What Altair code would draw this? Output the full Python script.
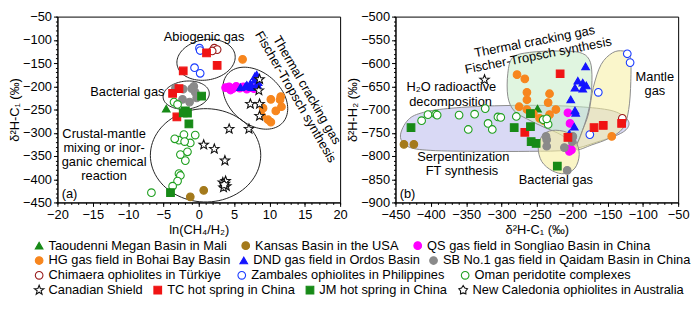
import altair as alt
import numpy as np
import pandas as pd

FONT = "Liberation Sans"

# ---------------- categories ----------------
GROUPS = [
    "Taoudenni Megan Basin in Mali", "Kansas Basin in the USA", "QS gas field in Songliao Basin in China",
    "HG gas field in Bohai Bay Basin", "DND gas field in Ordos Basin", "SB No.1 gas field in Qaidam Basin in China",
    "Chimaera ophiolites in Türkiye", "Zambales ophiolites in Philippines", "Oman peridotite complexes",
    "Canadian Shield", "TC hot spring in China", "JM hot spring in China", "New Caledonia ophiolites in  Australia",
]
LEGEND_ROWS = [GROUPS[0:3], GROUPS[3:6], GROUPS[6:9], GROUPS[9:13]]

# ---------------- panel (a): ln(CH4/H2) vs d2H-C1 ----------------
taoudenni_a = [(-4.6, -248), (-1.8, -253)]
kansas_a = [(0.7, -424), (-1.2, -438)]
qs_a = [(3.8, -203), (4.3, -201), (4.8, -205), (5.3, -200), (5.8, -204), (6.3, -201), (6.8, -206),
        (7.3, -203), (7.8, -205), (4.5, -208)]
hg_a = [(6.2, -142), (10.2, -228), (11.6, -222), (11.5, -229), (11.7, -244), (10.9, -253), (8.9, -263),
        (9.8, -272), (10.2, -277), (9.1, -247)]
dnd_a = [(6.8, -197), (7.3, -194), (7.95, -178), (8.2, -175), (8.4, -191), (8.3, -197), (7.5, -202),
         (5.9, -202), (6.6, -200), (7.95, -186)]
sb_a = [(-3.3, -204), (-2.2, -206), (-0.7, -200), (-0.5, -213), (-0.3, -225), (-1.3, -234), (-2.3, -228),
        (-1.0, -205)]
chimaera_a = [(2.2, -118), (2.6, -121), (1.9, -124)]
zambales_a = [(0.1, -118), (0.2, -123), (-0.6, -160), (0.2, -172)]
oman_a = [(-3.5, -234), (-3.0, -239), (-2.8, -316), (-2.1, -304), (-1.2, -322), (-0.5, -305), (-2.6, -347),
          (-1.6, -341), (-1.9, -360), (-2.8, -388), (-2.6, -392), (-3.0, -404), (-3.7, -415), (-6.7, -429),
          (-3.4, -313), (-2.0, -319)]
canadian_a = [(8.6, -185), (8.5, -209), (7.3, -238), (8.6, -238), (8.6, -264), (4.3, -292), (7.1, -292),
              (0.7, -326), (2.2, -335), (3.7, -360), (3.4, -407), (3.7, -410), (3.9, -415), (3.5, -418),
              (3.8, -404)]
tc_a = [(1.1, -128), (-2.2, -167), (2.6, -155), (-3.7, -215), (-2.8, -205), (-3.1, -266)]
jm_a = [(0.4, -221), (-1.9, -253), (-1.6, -258), (-2.2, -257), (-1.4, -281), (-4.0, -429)]
newcal_a = [(3.6, -412)]

# ---------------- panel (b): d2H-C1 vs d2H-H2 ----------------
taoudenni_b = [(-249, -698)]
kansas_b = [(-438, -775), (-424, -775)]
qs_b = [(-206, -707), (-203, -730), (-200, -762), (-203, -784), (-204, -790), (-201, -787)]
hg_b = [(-278, -625), (-267, -634), (-264, -663), (-264, -679), (-275, -694), (-264, -700), (-255, -709),
        (-246, -719), (-232, -666), (-234, -685), (-223, -700), (-232, -711), (-240, -724), (-144, -758)]
dnd_b = [(-181, -607), (-192, -638), (-185, -642), (-180, -648), (-196, -653), (-185, -655), (-202, -678),
         (-196, -702), (-195, -707), (-197, -737), (-204, -752)]
sb_b = [(-237, -758), (-236, -765), (-236, -779), (-211, -782), (-200, -769), (-199, -758), (-207, -831)]
chimaera_b = [(-129, -719)]
zambales_b = [(-122, -580), (-118, -599), (-163, -663), (-175, -754)]
oman_b = [(-413, -724), (-404, -711), (-393, -710), (-391, -712), (-360, -712), (-338, -710), (-323, -698),
          (-319, -730), (-313, -743), (-347, -743), (-305, -716), (-301, -717), (-279, -715), (-241, -722),
          (-234, -732), (-236, -720)]
canadian_b = [(-324, -636)]
tc_b = [(-217, -623), (-267, -749), (-206, -760), (-169, -739), (-156, -734), (-130, -730)]
jm_b = [(-428, -739), (-282, -739), (-259, -709), (-259, -737), (-258, -769), (-251, -773), (-221, -822)]
newcal_b = []

SERIES_A = [taoudenni_a, kansas_a, qs_a, hg_a, dnd_a, sb_a, chimaera_a, zambales_a, oman_a,
            canadian_a, tc_a, jm_a, newcal_a]
SERIES_B = [taoudenni_b, kansas_b, qs_b, hg_b, dnd_b, sb_b, chimaera_b, zambales_b, oman_b,
            canadian_b, tc_b, jm_b, newcal_b]

# axis ticks
XA_TICKS = [-20, -15, -10, -5, 0, 5, 10, 15, 20]
YA_TICKS = [-450, -400, -350, -300, -250, -200, -150, -100, -50]
XB_TICKS = [-450, -400, -350, -300, -250, -200, -150, -100, -50]
YB_TICKS = [-900, -850, -800, -750, -700, -650, -600, -550, -500]
XA_MINOR, YA_MINOR, XB_MINOR, YB_MINOR = 1, 10, 10, 10

# outlines of the genetic fields
# panel (a) ellipses: centre (data), semi-axes (px in the original figure), tilt (deg)
ELLIPSES_A = [(1.03, -143, 30.5, 23, -14), (-1.78, -219, 24, 16, -8),
              (0.96, -348.6, 57, 53.5, 0), (8.0, -225.6, 40, 28, 50)]
REF_PX_X, REF_PX_Y = 7.3, 0.5325

serp_b = [(-443, -757), (-432, -722), (-410, -706), (-370, -697), (-310, -692), (-250, -691), (-190, -694),
          (-145, -702), (-124, -718), (-120, -735), (-132, -752), (-165, -770), (-205, -787), (-260, -790),
          (-330, -790), (-400, -788), (-432, -780)]
thermal_b = [(-284, -588), (-260, -577), (-220, -574), (-190, -577), (-176, -592), (-172, -625), (-174, -680),
             (-182, -730), (-196, -778), (-215, -755), (-240, -738), (-263, -721), (-282, -703), (-291, -672),
             (-291, -622)]
mantle_b = [(-128, -574), (-118, -585), (-117, -640), (-120, -700), (-128, -740), (-148, -762), (-172, -776),
            (-194, -786), (-188, -755), (-177, -710), (-170, -652), (-159, -603), (-143, -578)]
bact_b = [(-228, -745), (-208, -749), (-195, -768), (-190, -797), (-196, -826), (-211, -838), (-228, -832),
          (-243, -812), (-248, -782), (-242, -756)]

ANN_A = [("Abiogenic gas", 0.75, -93), ("Bacterial gas", -10.1, -213), ("Crustal-mantle", -13.4, -303),
         ("mixing or inor-", -13.4, -333), ("ganic chemical", -13.4, -363), ("reaction", -13.4, -393)]
ANN_A_LEFT = [("(a)", -19.4, -433)]
ANN_A_ROT = [("Thermal cracking gas", 15.3, -208.3), ("Fischer-Tropsch synthesis", 13.7, -222.8)]
ANN_B = [("H\u2082O radioactive", -371, -652), ("decomposition", -372, -683), ("Serpentinization", -354, -802),
         ("FT synthesis", -356, -833), ("Mantle", -83, -630), ("gas", -83, -661), ("Bacterial gas", -223, -851)]
ANN_B_LEFT = [("(b)", -444, -881)]
ANN_B_ROT = [("Thermal cracking gas", -253, -554), ("Fischer-Tropsch synthesis", -248, -584)]

# ---------------- styles ----------------
STAR = ("M0,-1.3L0.321,-0.442L1.236,-0.402L0.519,0.169L0.764,1.052L0,0.546L-0.764,1.052"
        "L-0.519,0.169L-1.236,-0.402L-0.321,-0.442Z")
FLOWER = ("M0,-1.2L0.42,-0.58L1.14,-0.37L0.68,0.22L0.7,0.97L0,0.72L-0.7,0.97L-0.68,0.22"
          "L-1.14,-0.37L-0.42,-0.58Z")
SHAPE = ["triangle-up", "circle", "circle", "circle", "triangle-up", "circle", "circle", "circle", "circle",
         STAR, "square", "square", FLOWER]
STROKE = ["#178a17", "#a47a1c", "#ff00ff", "#f7861e", "#1414ff", "#8a8a8a", "#9a1b1b", "#1a3cff", "#1f9f1f",
          "#111111", "#f01414", "#178a17", "#111111"]
FILL = ["#178a17", "#a47a1c", "#ff00ff", "#f7861e", "#1414ff", "#8a8a8a", "white", "white", "white",
        "white", "#f01414", "#178a17", "white"]
SH = dict(zip(GROUPS, SHAPE)); ST = dict(zip(GROUPS, STROKE)); FI = dict(zip(GROUPS, FILL))

W, H = 286, 188
SPACING = 56
LEG_X = -25
LEG_Y0, LEG_DY = H + 37, 15
LEG_PAD = [12, 6, 14, 8]


def to_df(series):
    rows = []
    for g, pts in zip(GROUPS, series):
        for (x, y) in pts:
            rows.append({"group": g, "x": x, "y": y})
    return pd.DataFrame(rows, columns=["group", "x", "y"])


def ellipse_df(specs):
    rows = []
    t = np.linspace(0, 2 * np.pi, 90, endpoint=False)
    for k, (cx, cy, a, b, deg) in enumerate(specs):
        th = np.radians(deg)
        dx = a * np.cos(t) * np.cos(th) - b * np.sin(t) * np.sin(th)
        dy = a * np.cos(t) * np.sin(th) + b * np.sin(t) * np.cos(th)
        for i in range(len(t)):
            rows.append({"id": k, "i": i, "x": cx + dx[i] / REF_PX_X, "y": cy - dy[i] / REF_PX_Y})
    return pd.DataFrame(rows)


def poly_df(pts):
    return pd.DataFrame([{"i": i, "x": x, "y": y} for i, (x, y) in enumerate(pts)])


def ann_df(items):
    return pd.DataFrame([{"t": t, "x": x, "y": y} for (t, x, y) in items])


def major_axis(ticks, title, orient):
    return alt.Axis(values=ticks, title=title, orient=orient, tickSize=4,
                    labelFlush=False, labelOverlap=False, grid=False)


def minor_axis(ticks, step, orient):
    vals = [float(v) for v in np.arange(ticks[0], ticks[-1] + step / 2, step).round(6)]
    return alt.Axis(values=vals, title=None, orient=orient, tickSize=2, labels=False, domain=False,
                    grid=False)


def axes_layer(df, xs, ys, xt, yt, xstep, ystep, xtitle, ytitle):
    major = alt.Chart(df).mark_point(opacity=0).encode(
        x=alt.X("x:Q", scale=xs, axis=major_axis(xt, xtitle, "bottom")),
        y=alt.Y("y:Q", scale=ys, axis=major_axis(yt, ytitle, "left")))
    minor = alt.Chart(df).mark_point(opacity=0).encode(
        x=alt.X("x:Q", scale=xs, axis=minor_axis(xt, xstep, "bottom")),
        y=alt.Y("y:Q", scale=ys, axis=minor_axis(yt, ystep, "left")))
    return [major, minor]


def point_layers(df, xs, ys, show_legend):
    layers = []
    for r, row in enumerate(LEGEND_ROWS):
        sub = df[df["group"].isin(row)]
        if show_legend:
            leg = alt.Legend(title=None, orient="none", legendX=LEG_X, legendY=LEG_Y0 + LEG_DY * r,
                             direction="horizontal", columns=len(row), columnPadding=LEG_PAD[r],
                             symbolSize=60, symbolStrokeWidth=1.1, labelFont=FONT, labelFontSize=13,
                             labelColor="black", labelLimit=600, labelOffset=3, padding=0)
        else:
            leg = None
        layers.append(
            alt.Chart(sub).mark_point(opacity=1, size=60, strokeWidth=1.1, clip=True).encode(
                x=alt.X("x:Q", scale=xs, axis=None),
                y=alt.Y("y:Q", scale=ys, axis=None),
                shape=alt.Shape("group:N", scale=alt.Scale(domain=row, range=[SH[g] for g in row]), legend=leg),
                fill=alt.Fill("group:N", scale=alt.Scale(domain=row, range=[FI[g] for g in row]), legend=leg),
                stroke=alt.Stroke("group:N", scale=alt.Scale(domain=row, range=[ST[g] for g in row]), legend=leg),
            )
        )
    return layers


def text_layer(items, xs, ys, **kw):
    return alt.Chart(ann_df(items)).mark_text(font=FONT, fontSize=13, color="black", **kw).encode(
        x=alt.X("x:Q", scale=xs, axis=None), y=alt.Y("y:Q", scale=ys, axis=None), text="t:N")


# ---------------- panel (a) ----------------
xs_a = alt.Scale(domain=[-20, 20], nice=False, zero=False)
ys_a = alt.Scale(domain=[-450, -50], nice=False, zero=False)
ell_df = ellipse_df(ELLIPSES_A)

ell = alt.Chart(ell_df).mark_line(
    interpolate="linear-closed", color="#222222", strokeWidth=1, clip=True).encode(
    x=alt.X("x:Q", scale=xs_a, axis=None),
    y=alt.Y("y:Q", scale=ys_a, axis=None),
    detail="id:N", order="i:Q")

panel_a = alt.layer(
    *axes_layer(ell_df, xs_a, ys_a, XA_TICKS, YA_TICKS, XA_MINOR, YA_MINOR,
                "ln(CH\u2084/H\u2082)", "\u03b4\u00b2H-C\u2081 (\u2030)"),
    ell,
    text_layer(ANN_A, xs_a, ys_a),
    text_layer(ANN_A_LEFT, xs_a, ys_a, align="left"),
    text_layer(ANN_A_ROT, xs_a, ys_a, angle=60),
    *point_layers(to_df(SERIES_A), xs_a, ys_a, True),
).resolve_scale(shape="independent", fill="independent", stroke="independent").resolve_axis(
    x="independent", y="independent").properties(width=W, height=H)

# ---------------- panel (b) ----------------
xs_b = alt.Scale(domain=[-450, -50], nice=False, zero=False)
ys_b = alt.Scale(domain=[-900, -500], nice=False, zero=False)


def region(pts, fill, op):
    return alt.Chart(poly_df(pts)).mark_line(
        interpolate="cardinal-closed", stroke="#8c8c8c", strokeWidth=1, fill=fill, fillOpacity=op, clip=True
    ).encode(x=alt.X("x:Q", scale=xs_b, axis=None), y=alt.Y("y:Q", scale=ys_b, axis=None), order="i:Q")


panel_b = alt.layer(
    *axes_layer(poly_df(serp_b), xs_b, ys_b, XB_TICKS, YB_TICKS, XB_MINOR, YB_MINOR,
                "\u03b4\u00b2H-C\u2081 (\u2030)", "\u03b4\u00b2H-H\u2082 (\u2030)"),
    region(serp_b, "#cfcff3", 0.8),
    region(thermal_b, "#c6edc6", 0.55),
    region(mantle_b, "#f6eea0", 0.55),
    region(bact_b, "#f6eea0", 0.6),
    text_layer(ANN_B, xs_b, ys_b),
    text_layer(ANN_B_LEFT, xs_b, ys_b, align="left"),
    text_layer(ANN_B_ROT, xs_b, ys_b, angle=349),
    *point_layers(to_df(SERIES_B), xs_b, ys_b, False),
).resolve_scale(shape="independent", fill="independent", stroke="independent").resolve_axis(
    x="independent", y="independent").properties(width=W, height=H)

chart = alt.hconcat(panel_a, panel_b, spacing=SPACING, bounds="flush").resolve_scale(
    shape="independent", fill="independent", stroke="independent"
).properties(
    padding={"left": 0, "top": 0, "right": 0, "bottom": 0}
).configure_view(stroke="black", strokeWidth=1).configure_axis(
    labelFont=FONT, labelFontSize=13, labelColor="black", titleFont=FONT, titleFontSize=13,
    titleFontWeight="normal", titleColor="black", domainColor="black", tickColor="black",
    labelPadding=2, titlePadding=2
).configure_axisY(titlePadding=1)

chart.save("out.html", embed_options={"renderer": "svg", "actions": False})
